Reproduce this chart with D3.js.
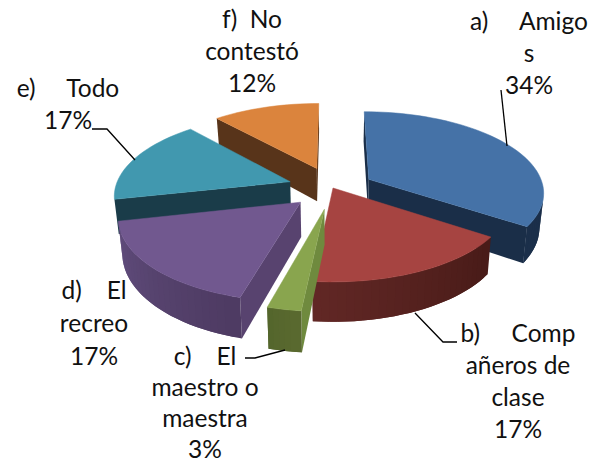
<!DOCTYPE html>
<html><head><meta charset="utf-8">
<script src="https://cdn.jsdelivr.net/npm/d3@7/dist/d3.min.js"></script>
<style>html,body{margin:0;background:#fff}svg{display:block}text{font-family:Lato,"Open Sans",sans-serif;font-size:24.5px;fill:#111;white-space:pre}</style>
</head><body><svg id="c" width="600" height="467"></svg>
<script>
const categories = ["a) Amigos","b) Compañeros de clase","c) El maestro o maestra","d) El recreo","e) Todo","f) No contestó"];
const percents = [34.5,17.1,2.6,17.3,16.9,11.6];
const explode = [0.235,0,0.26,0.25,0.26,0.27];
const topColors = ["#4572A7","#A64441","#89A54E","#71588F","#4198AF","#DB843D"];
const wallStart = ["#1B2F4A","#491B18","#59692F","#4E3B63","#1A3C49","#58341A"];
const wallEnd = ["#1B2F4A","#632826","#52642B","#624E7E","#1A3C49","#58341A"];
const faceColors = ["#1A2E48","#4A1C19","#6F8A3E","#58436F","#1A3C49","#58341A"];
const drawOrder = [5,0,4,3,1,2];
const labelLines = [
  ["a)     Amigo","s","34%"],
  ["b)     Comp","añeros de","clase","17%"],
  ["c)    El","maestro o","maestra","3%"],
  ["d)    El","recreo","17%"],
  ["e)     Todo","17%"],
  ["f)  No","contestó","12%"]
];
const labelAnchors = [[529,30],[518,342],[205,365],[94,299],[68,97],[252,28]];
const labelSteps = [32,32,31,33,32,32];
const leaders = [
  [[501,90],[507,146]],
  [[415,313],[443,342],[457,342]],
  [[285,350],[255,358],[245,358]],
  [[92,129],[107,129],[135,160]]
];

const svg = d3.select("#c");
const cx=333, cy=188, rx=175, ry=80, k=0.148, h=34, taper=0.98;
const pie = d3.pie().sort(null);
const arcs = pie(percents);
function project(X,Y,bottom){
  const w = 1-k*Y, t = bottom?taper:1;
  return [cx + t*rx*X/w, cy + (ry*Y + (bottom?h:0))/w];
}
const line = d3.line();
drawOrder.forEach(i=>{
  const a = arcs[i], mid=(a.startAngle+a.endAngle)/2;
  const ox = explode[i]*Math.sin(mid), oy = -explode[i]*Math.cos(mid);
  const ang = d3.scaleLinear().domain([0,1]).range([a.startAngle,a.endAngle]);
  const n = Math.max(6,Math.round((a.endAngle-a.startAngle)*24));
  const ts = d3.range(n+1).map(j=>j/n);
  const ring = ts.map(t=>[ox+Math.sin(ang(t)), oy-Math.cos(ang(t))]);
  const shade = d3.scaleLinear().domain([0,1]).range([wallStart[i],wallEnd[i]]);
  const g = svg.append("g");
  const apex=[ox,oy];
  const topPoly=[apex,...ring].map(p=>project(p[0],p[1],false));
  const topSign=Math.sign(d3.polygonArea(topPoly));
  const quad=(p,q)=>[project(p[0],p[1],false),project(q[0],q[1],false),project(q[0],q[1],true),project(p[0],p[1],true)];
  const drawQuad=(Q,c)=>{
    if(Math.sign(d3.polygonArea(Q))===topSign) return;
    g.append("path").attr("d",line(Q)+"Z").attr("fill",c);
  };
  drawQuad(quad(apex,ring[0]),faceColors[i]);
  drawQuad(quad(ring[n],apex),faceColors[i]);
  // each strip reaches over the next one, so no seams show between strips
  for(let j=n-1;j>=0;j--){
    if(Math.sign(d3.polygonArea(quad(ring[j],ring[j+1])))===topSign) continue;
    const Q=[project(ring[j][0],ring[j][1],false),...ring.slice(j+1,j+3).map(p=>project(p[0],p[1],false)),
             ...ring.slice(j+1,j+3).reverse().map(p=>project(p[0],p[1],true)),project(ring[j][0],ring[j][1],true)];
    g.append("path").attr("d",line(Q)+"Z").attr("fill",shade(ts[j]));
  }
  g.append("path").attr("d",line(topPoly)+"Z").attr("fill",topColors[i]).attr("stroke",topColors[i]).attr("stroke-width",0.5);
});
svg.selectAll("path.leader").data(leaders).join("path").attr("class","leader")
  .attr("d",d=>line(d)).attr("fill","none").attr("stroke","#000").attr("stroke-width",1.3);
labelLines.forEach((ls,i)=>{
  const t=svg.append("text").attr("text-anchor","middle");
  ls.forEach((s,j)=>t.append("tspan").attr("x",labelAnchors[i][0]).attr("y",labelAnchors[i][1]+j*labelSteps[i]).text(s));
});
</script></body></html>
